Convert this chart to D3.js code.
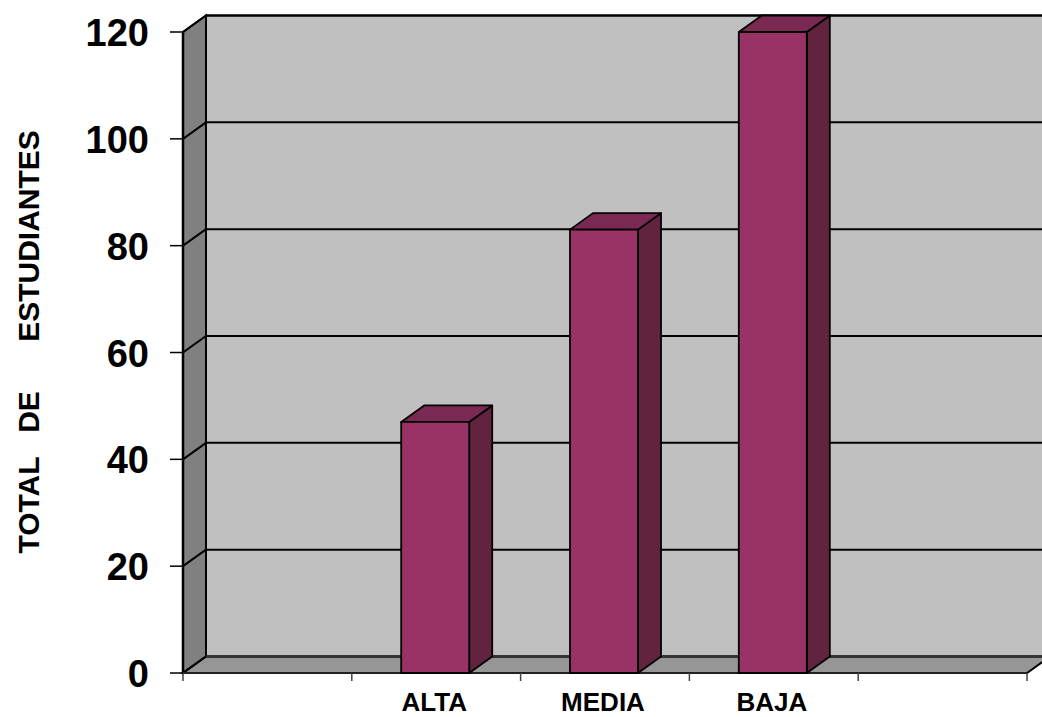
<!DOCTYPE html>
<html>
<head>
<meta charset="utf-8">
<script src="https://cdn.jsdelivr.net/npm/d3@7"></script>
<style>
  html, body { margin: 0; padding: 0; background: #ffffff; }
  svg { display: block; font-family: Arial, "Liberation Sans", sans-serif; }
</style>
</head>
<body>
<svg id="chart" width="1042" height="717"></svg>
<script>
// ---- data ----
const categories = ["slot0", "ALTA", "MEDIA", "BAJA", "slot4"];
const categoryLabels = ["", "ALTA", "MEDIA", "BAJA", ""];
const values = [null, 47, 83, 120, null];
const yTicks = [0, 20, 40, 60, 80, 100, 120];
const yTitleParts = ["TOTAL", "DE", "ESTUDIANTES"];

// ---- layout ----
const svg = d3.select("#chart");
const frontLeft = 183, frontRight = 1027;
const frontBottom = 673, frontTop = 32;
const dx = 23, dy = -16.5;

const x = d3.scaleBand().domain(categories).range([frontLeft, frontRight]).paddingInner(0).paddingOuter(0);
const y = d3.scaleLinear().domain([0, 120]).range([frontBottom, frontTop]);
const barW = x.bandwidth() * 0.403;

const wallBack = "#c0c0c0", wallSide = "#808080", floorCol = "#969696";

// left wall
svg.append("polygon")
  .attr("points", [[frontLeft, y(120)], [frontLeft + dx, y(120) + dy], [frontLeft + dx, y(0) + dy], [frontLeft, y(0)]].join(" "))
  .attr("fill", wallSide).attr("stroke", "#000").attr("stroke-width", 2);
// back wall
svg.append("rect")
  .attr("x", frontLeft + dx).attr("y", y(120) + dy)
  .attr("width", frontRight - frontLeft + 10).attr("height", y(0) - y(120))
  .attr("fill", wallBack).attr("stroke", "#000").attr("stroke-width", 2);
// floor
svg.append("polygon")
  .attr("points", [[frontLeft, y(0)], [frontLeft + dx, y(0) + dy], [frontRight + dx, y(0) + dy], [frontRight, y(0)]].join(" "))
  .attr("fill", floorCol).attr("stroke", "#000").attr("stroke-width", 2);

// gridlines on back wall + left wall
const grid = svg.append("g");
yTicks.forEach(v => {
  grid.append("line")
    .attr("x1", frontLeft + dx).attr("x2", frontRight + dx + 20)
    .attr("y1", y(v) + dy).attr("y2", y(v) + dy)
    .attr("stroke", v === 0 ? "#333" : "#000").attr("stroke-width", v === 0 ? 3 : 2);
  grid.append("line")
    .attr("x1", frontLeft).attr("x2", frontLeft + dx)
    .attr("y1", y(v)).attr("y2", y(v) + dy)
    .attr("stroke", "#000").attr("stroke-width", 2);
});
// front edges
svg.append("line").attr("x1", frontLeft).attr("x2", frontLeft)
  .attr("y1", y(120)).attr("y2", y(0)).attr("stroke", "#000").attr("stroke-width", 2.5);
svg.append("line").attr("x1", frontLeft).attr("x2", frontRight)
  .attr("y1", y(0)).attr("y2", y(0)).attr("stroke", "#222").attr("stroke-width", 2);

// y axis ticks & labels
const yAxis = svg.append("g");
yTicks.forEach(v => {
  yAxis.append("line").attr("x1", frontLeft - 13).attr("x2", frontLeft)
    .attr("y1", y(v)).attr("y2", y(v)).attr("stroke", "#000").attr("stroke-width", 1.5);
  yAxis.append("text").attr("x", 149).attr("y", y(v) + 14)
    .attr("text-anchor", "end").attr("font-size", 38).attr("font-weight", "bold")
    .attr("fill", "#000").text(v);
});

// x axis ticks & labels
const xAxis = svg.append("g");
categories.forEach((c, i) => {
  xAxis.append("line").attr("x1", x(c)).attr("x2", x(c))
    .attr("y1", y(0)).attr("y2", y(0) + 8).attr("stroke", "#444").attr("stroke-width", 1.5);
  if (i === categories.length - 1) {
    xAxis.append("line").attr("x1", x(c) + x.bandwidth()).attr("x2", x(c) + x.bandwidth())
      .attr("y1", y(0)).attr("y2", y(0) + 8).attr("stroke", "#444").attr("stroke-width", 1.5);
  }
  if (categoryLabels[i]) {
    xAxis.append("text").attr("x", x(c) + x.bandwidth() / 2 - 2).attr("y", 711)
      .attr("text-anchor", "middle").attr("font-size", 26).attr("font-weight", "bold")
      .attr("fill", "#000").text(categoryLabels[i]);
  }
});

// bars
const bars = svg.append("g");
categories.forEach((c, i) => {
  const v = values[i];
  if (v == null) return;
  const x0 = x(c) + (x.bandwidth() - barW) / 2 - 1;
  const x1 = x0 + barW;
  const yt = y(v), yb = y(0);
  const g = bars.append("g").attr("stroke", "#000").attr("stroke-width", 1.8).attr("stroke-linejoin", "round");
  g.append("polygon")
    .attr("points", [[x1, yt], [x1 + dx, yt + dy], [x1 + dx, yb + dy], [x1, yb]].join(" "))
    .attr("fill", "#62233f");
  g.append("polygon")
    .attr("points", [[x0, yt], [x0 + dx, yt + dy], [x1 + dx, yt + dy], [x1, yt]].join(" "))
    .attr("fill", "#7a2952");
  g.append("rect").attr("x", x0).attr("y", yt).attr("width", barW).attr("height", yb - yt)
    .attr("fill", "#993366");
});

// y title (three words placed along the axis as in the reference)
const titleCenters = [505, 412, 236];
const titleG = svg.append("g");
yTitleParts.forEach((w, i) => {
  titleG.append("text")
    .attr("transform", `translate(39,${titleCenters[i]}) rotate(-90)`)
    .attr("text-anchor", "middle").attr("font-size", 30).attr("font-weight", "bold")
    .attr("fill", "#000").text(w);
});
</script>
</body>
</html>
